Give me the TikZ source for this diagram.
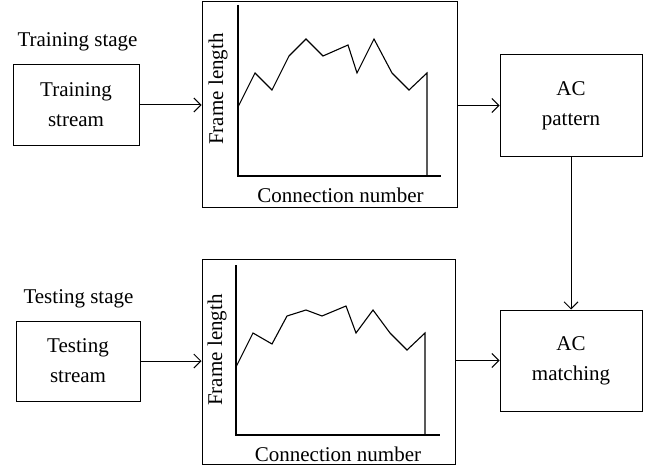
\documentclass[tikz,border=0pt]{standalone}
\usepackage{fontspec}
\setmainfont{Liberation Serif}
\usetikzlibrary{arrows.meta}
\begin{document}
\begin{tikzpicture}[x=1pt,y=-1pt,
  every node/.style={font=\fontsize{21}{30}\selectfont, inner sep=0pt},
  blk/.style={draw, line width=1pt, align=center},
  frm/.style={draw, line width=1pt, minimum width=255pt, minimum height=205pt},
  arr/.style={line width=1pt, -{Straight Barb[length=7pt,width=14pt]}},
  curve/.style={line width=1.1pt, line join=miter},
  axis/.style={line width=1.2pt},
  lbl/.style={anchor=base}]
\useasboundingbox (0,0) rectangle (647,468);

% top row
\node[lbl] (tstage) at (77.5,47) {Training stage};
\node[blk, minimum width=126pt, minimum height=80pt] (ts) at (76,105) {Training\\stream};
\node[frm] (fr1) at (329.5,104.5) {};
\node[blk, minimum width=142pt, minimum height=101pt] (acp) at (571,105.5) {AC\\pattern};
\draw[axis] (238,5) -- (238,176) -- (441,176);
\draw[curve] (238,176) -- (238,107) -- (255,73) -- (272,90) -- (289,56) -- (306,39) -- (323,56)
  -- (348,45) -- (357,73) -- (374,39) -- (392,73) -- (409,90) -- (427,73) -- (427,176);
\node[rotate=90] (fl1) at (218,89) {Frame length};
\node[lbl] (cn1) at (340.5,202) {Connection number};

% bottom row
\node[lbl] (tstage2) at (78.5,303) {Testing stage};
\node[blk, minimum width=124pt, minimum height=80pt] (ts2) at (78,361) {Testing\\stream};
\node[frm, minimum width=253pt] (fr2) at (328.5,361.5) {};
\node[blk, minimum width=142pt, minimum height=101pt] (acm) at (571,360.5) {AC\\matching};
\draw[axis] (236,265) -- (236,435) -- (440,435);
\draw[curve] (236,435) -- (236,367) -- (253,333) -- (272,344) -- (287,316) -- (306,310) -- (322,316)
  -- (346,306) -- (356,333) -- (373,310) -- (390,333) -- (407,350) -- (425,333) -- (425,435);
\node[rotate=90] (fl2) at (217,350) {Frame length};
\node[lbl] (cn2) at (338,461) {Connection number};

% connectors
\draw[arr] (ts.east) -- (ts.east -| fr1.west);
\draw[arr] (acp.west -| fr1.east) -- (acp.west);
\draw[arr] (acp.south) -- (acm.north);
\draw[arr] (ts2.east) -- (ts2.east -| fr2.west);
\draw[arr] (acm.west -| fr2.east) -- (acm.west);
\end{tikzpicture}
\end{document}
